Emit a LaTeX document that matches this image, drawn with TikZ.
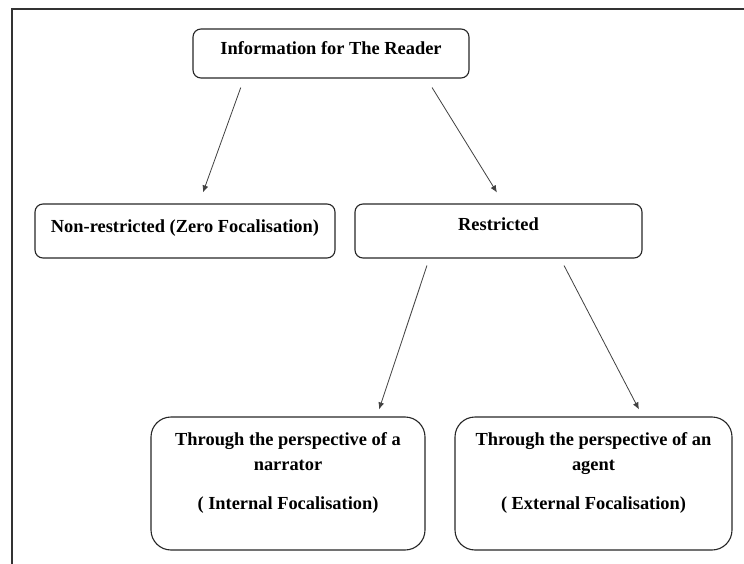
\documentclass[tikz,border=0pt]{standalone}
\usepackage{fontspec}
\setmainfont{Liberation Serif}
\usetikzlibrary{arrows.meta}
\tikzset{
  box/.style={draw=black!85, line width=1.1pt, rounded corners=8pt, inner sep=0pt,
    align=center, font=\fontsize{18.4}{25}\selectfont\bfseries},
  bigbox/.style={box, rounded corners=20pt},
  link/.style={draw=black!75, line width=0.8pt, -{Latex[length=7pt,width=6pt]}}
}
\begin{document}
\begin{tikzpicture}[x=1pt,y=-1pt]
      \useasboundingbox (0,0) rectangle (744,564);
      \draw[line width=1.4pt, black!80] (12,564) -- (12,9) -- (744,9);
      \node[box, minimum width=276pt, text height=26pt, text depth=23pt]
        (reader) at (331,53.5) {Information for The Reader};
      \node[box, minimum width=300pt, text height=29pt, text depth=25pt]
        (zero) at (185,231) {Non-restricted (Zero Focalisation)};
      \node[box, minimum width=287pt, text height=26pt, text depth=28pt]
        (restricted) at (498.5,231) {Restricted};
      \node[bigbox, minimum width=274pt, text height=92pt, text depth=41pt]
        (internal) at (288,483.5) {Through the perspective of a\\narrator\\[14pt]( Internal Focalisation)};
      \node[bigbox, minimum width=277pt, text height=92pt, text depth=41pt]
        (external) at (593.5,483.5) {Through the perspective of an\\agent\\[14pt]( External Focalisation)};
      \begin{scope}[link]
        \draw[shorten <=9.6pt, shorten >=11.7pt] ([xshift=-87pt]reader.south) to ([xshift=14pt]zero.north);
        \draw[shorten <=10.6pt, shorten >=12.9pt] ([xshift=95.5pt]reader.south) to ([xshift=5.2pt]restricted.north);
        \draw[shorten <=7.4pt, shorten >=7.4pt] ([xshift=-69.2pt]restricted.south) to ([xshift=88.7pt]internal.north);
        \draw[shorten <=7.9pt, shorten >=7.9pt] ([xshift=61.9pt]restricted.south) to ([xshift=49.1pt]external.north);
      \end{scope}
    \end{tikzpicture}
\end{document}
